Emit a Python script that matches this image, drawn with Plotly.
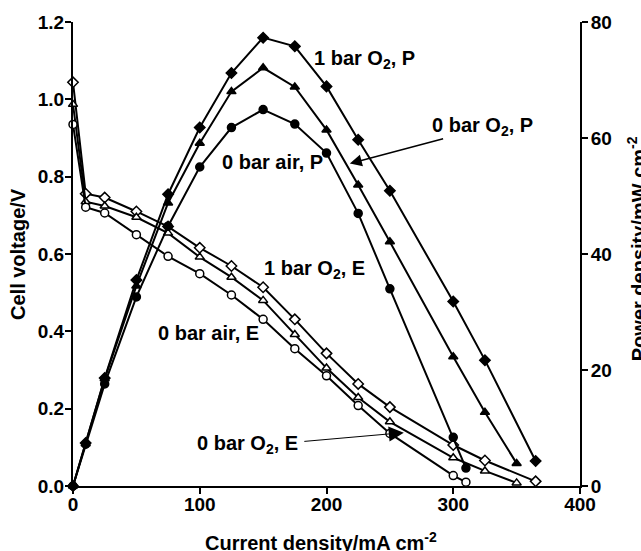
import plotly.graph_objects as go

# ---- data ----
I_1bar = [0, 10, 25, 50, 75, 100, 125, 150, 175, 200, 225, 250, 300, 325, 365]
I_0bar = [0, 10, 25, 50, 75, 100, 125, 150, 175, 200, 225, 250, 300, 325, 350]
I_air = [0, 10, 25, 50, 75, 100, 125, 150, 175, 200, 225, 250, 300, 310]

E_1bar = [1.044, 0.756, 0.746, 0.710, 0.671, 0.616, 0.569, 0.514, 0.431, 0.343, 0.264, 0.204, 0.106, 0.066, 0.012]
E_0bar = [0.987, 0.735, 0.724, 0.695, 0.654, 0.592, 0.540, 0.480, 0.392, 0.305, 0.229, 0.166, 0.073, 0.039, 0.008]
E_air = [0.935, 0.721, 0.706, 0.650, 0.594, 0.549, 0.494, 0.431, 0.355, 0.285, 0.208, 0.136, 0.027, 0.010]

P_1bar = [0, 7.4, 18.6, 35.5, 50.3, 61.8, 71.2, 77.3, 75.8, 68.9, 59.7, 50.9, 31.8, 21.7, 4.3]
P_0bar = [0, 7.3, 18.5, 34.5, 48.8, 59.1, 68.0, 72.1, 68.8, 61.4, 51.9, 42.1, 22.3, 12.7, 3.9]
P_air = [0, 7.2, 17.6, 32.6, 44.8, 55.0, 61.8, 64.9, 62.4, 57.4, 47.0, 34.0, 8.4, 3.1]

X_TICKS = [0, 100, 200, 300, 400]
X_LABELS = ["0", "100", "200", "300", "400"]
Y_TICKS = [0, 0.2, 0.4, 0.6, 0.8, 1.0, 1.2]
Y_LABELS = ["0.0", "0.2", "0.4", "0.6", "0.8", "1.0", "1.2"]
Y2_TICKS = [0, 20, 40, 60, 80]
Y2_LABELS = ["0", "20", "40", "60", "80"]

FONT = "Liberation Sans, Arial, sans-serif"
BLK = "black"

fig = go.Figure()

def add(x, y, symbol, filled, yaxis, size=8):
    fig.add_trace(go.Scatter(
        x=x, y=y, mode="lines+markers", yaxis=yaxis, cliponaxis=False,
        line=dict(color=BLK, width=2),
        marker=dict(symbol=symbol, size=size,
                    color=BLK if filled else "white",
                    line=dict(color=BLK, width=1.5)),
        showlegend=False))

add(I_1bar, E_1bar, "diamond", False, "y")
add(I_0bar, E_0bar, "triangle-up", False, "y")
add(I_air, E_air, "circle", False, "y")
add(I_1bar, P_1bar, "diamond", True, "y2")
add(I_0bar, P_0bar, "triangle-up", True, "y2")
add(I_air, P_air, "circle", True, "y2")

def bold(labels):
    return ["<b>%s</b>" % s for s in labels]

tickfont = dict(family=FONT, size=19, color=BLK)
axcommon = dict(showgrid=False, zeroline=False, showline=True, linecolor=BLK,
                linewidth=2, ticks="outside", ticklen=6, tickwidth=2,
                tickcolor=BLK, tickfont=tickfont, tickmode="array")

fig.update_layout(
    width=641, height=551,
    margin=dict(l=73, r=61, t=20, b=65),
    paper_bgcolor="white", plot_bgcolor="white",
    font=dict(family=FONT, color=BLK),
    xaxis=dict(range=[0, 400], tickvals=X_TICKS, ticktext=bold(X_LABELS),
               ticklabelstandoff=-6, **axcommon),
    yaxis=dict(range=[0, 1.2], tickvals=Y_TICKS, ticktext=bold(Y_LABELS),
               ticklabelstandoff=-3, **axcommon),
    yaxis2=dict(range=[0, 80], tickvals=Y2_TICKS, ticktext=bold(Y2_LABELS),
                overlaying="y", side="right", anchor="x", ticklabelstandoff=-1,
                **axcommon),
)

lab = dict(family=FONT, size=20, color=BLK)
labels = [
    ("<b>1 bar O<sub>2</sub>, P</b>", 188.6, 1.102),
    ("<b>0 bar O<sub>2</sub>, P</b>", 281.5, 0.929),
    ("<b>0 bar air, P</b>", 115.9, 0.839),
    ("<b>1 bar O<sub>2</sub>, E</b>", 148.9, 0.561),
    ("<b>0 bar air, E</b>", 65.3, 0.396),
    ("<b>0 bar O<sub>2</sub>, E</b>", 96.1, 0.107),
]
for t, x, y in labels:
    fig.add_annotation(text=t, x=x, y=y, xref="x", yref="y", xanchor="left",
                       yanchor="middle", showarrow=False, font=lab)

# arrows
fig.add_annotation(text="", x=218.4, y=0.834, ax=293.2, ay=0.899, xref="x", yref="y",
                   axref="x", ayref="y", showarrow=True, arrowhead=2,
                   arrowsize=1.6, arrowwidth=1.5, arrowcolor=BLK)
fig.add_annotation(text="", x=261.0, y=0.138, ax=181.3, ay=0.115, xref="x", yref="y",
                   axref="x", ayref="y", showarrow=True, arrowhead=2,
                   arrowsize=3, arrowwidth=1, arrowcolor=BLK)

# axis titles
fig.add_annotation(text="<b>Current density/mA cm<sup>-2</sup></b>", x=0.49, y=-0.12,
                   xref="paper", yref="paper", xanchor="center", yanchor="middle",
                   showarrow=False, font=lab)
fig.add_annotation(text="<b>Cell voltage/V</b>", x=-0.1085, y=0.5, textangle=-90,
                   xref="paper", yref="paper", xanchor="center", yanchor="middle",
                   showarrow=False, font=lab)
fig.add_annotation(text="<b>Power density/mW cm<sup>-2</sup></b>", x=1.112, y=0.512,
                   textangle=-90, xref="paper", yref="paper", xanchor="center",
                   yanchor="middle", showarrow=False, font=lab)

fig.write_html("out.html")
